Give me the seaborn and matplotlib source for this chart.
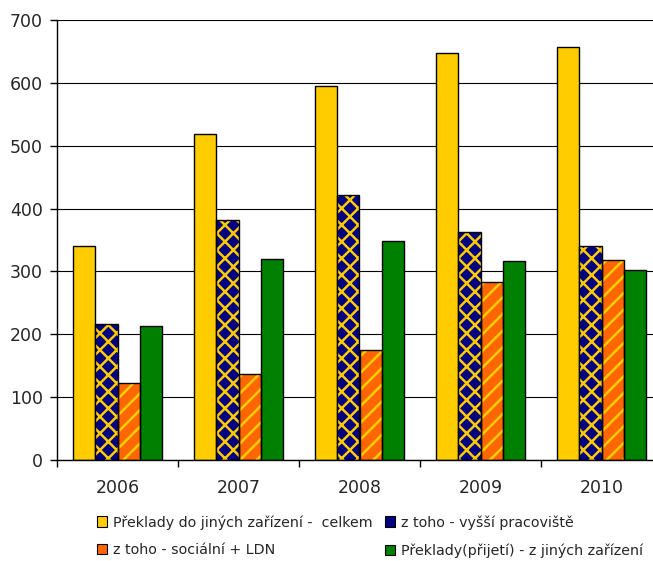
import numpy as np
import pandas as pd
import matplotlib
matplotlib.use("Agg")
import matplotlib.pyplot as plt
import seaborn as sns
from matplotlib.patches import Patch, Rectangle

# data
years = ["2006", "2007", "2008", "2009", "2010"]
series = ["Překlady do jiných zařízení -  celkem",
          "z toho - vyšší pracoviště",
          "z toho - sociální + LDN",
          "Překlady(přijetí) - z jiných zařízení"]
celkem = [340, 518, 595, 648, 657]
vyssi = [217, 382, 422, 363, 340]
socialni = [123, 137, 175, 283, 318]
prijeti = [213, 319, 349, 316, 302]

colors = ["#FFCC00", "#000080", "#FF6600", "#008000"]
gold = "#FFCC00"

df = pd.DataFrame({
    "rok": years * 4,
    "serie": np.repeat(series, len(years)),
    "pocet": celkem + vyssi + socialni + prijeti,
})

sns.set_style("white")
plt.rcParams["font.family"] = ["DejaVu Sans"]
plt.rcParams["hatch.linewidth"] = 1.8

fig = plt.figure(figsize=(6.53, 5.61), dpi=100)
ax = fig.add_axes([57 / 653, 1 - 460 / 561, 605 / 653, 440 / 561])

sns.barplot(data=df, x="rok", y="pocet", hue="serie", palette=colors,
            width=0.733, saturation=1, edgecolor="black", linewidth=1,
            legend=False, ax=ax)

# patterned bars: hatch colour follows edge colour, so redraw the outline
for idx, hatch in [(1, "xx"), (2, "//")]:
    for bar in ax.containers[idx]:
        bar.set_hatch(hatch)
        bar.set_edgecolor(gold)
        bar.set_linewidth(0)
        ax.add_patch(Rectangle((bar.get_x(), bar.get_y()), bar.get_width(),
                               bar.get_height(), fill=False,
                               edgecolor="black", linewidth=1, zorder=bar.get_zorder()))

ax.set_ylim(0, 700)
ax.set_yticks(range(0, 701, 100))
ax.set_axisbelow(True)
ax.yaxis.grid(True, color="black", linewidth=0.8)
ax.xaxis.grid(False)
ax.set_xlabel("")
ax.set_ylabel("")

ax.set_xticks(np.arange(-0.5, len(years), 1), minor=True)
ax.tick_params(axis="y", left=True, direction="out", length=5, width=1,
               color="black", labelsize=12.5, pad=5)
ax.tick_params(axis="x", which="major", bottom=False, length=0, pad=14,
               labelsize=12.5)
ax.tick_params(axis="x", which="minor", bottom=True, direction="out",
               length=5, width=1, color="black")

for s in ["top", "right"]:
    ax.spines[s].set_visible(False)
for s in ["left", "bottom"]:
    ax.spines[s].set_color("black")
    ax.spines[s].set_linewidth(1)

handles = [Patch(facecolor=c, edgecolor="black", linewidth=0.8) for c in colors]
order = [0, 2, 1, 3]
fig.legend([handles[i] for i in order], [series[i] for i in order], ncol=2,
           loc="upper left", bbox_to_anchor=(97 / 653, 1 - 515 / 561),
           frameon=False, fontsize=10.3, handlelength=0.7, handleheight=0.7,
           handletextpad=0.4, columnspacing=0.9, labelspacing=0.95,
           borderpad=0, borderaxespad=0)

fig.savefig("out.png", dpi=100)
